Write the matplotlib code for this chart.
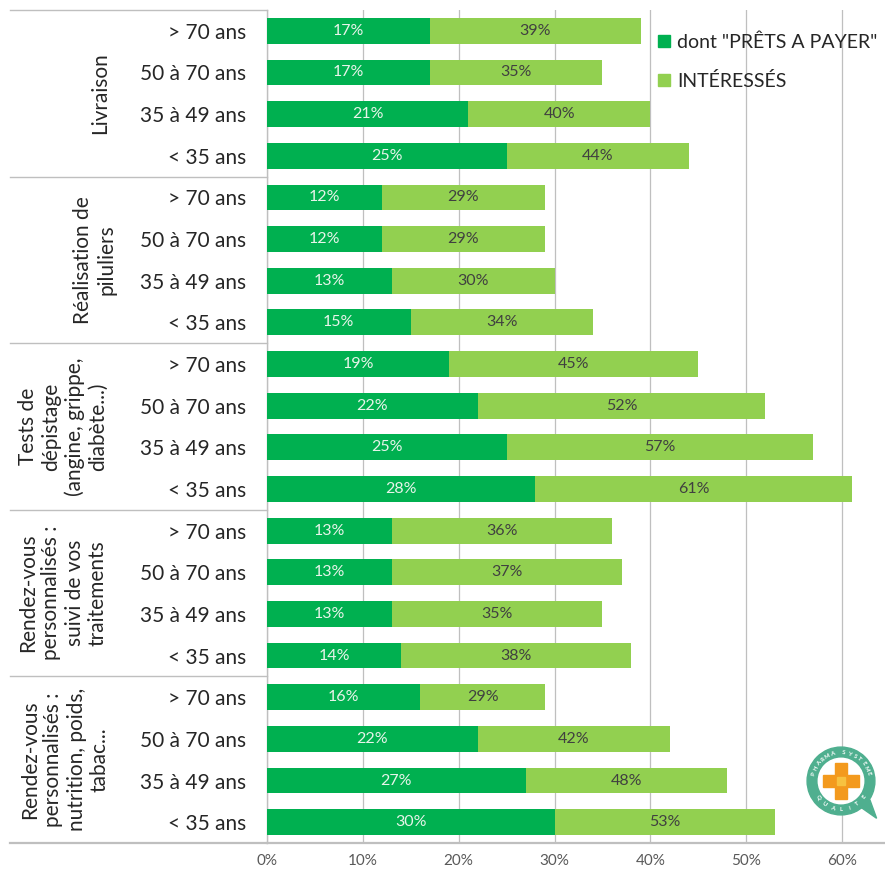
import matplotlib
matplotlib.use("Agg")
import matplotlib.pyplot as plt
import matplotlib.transforms as mtransforms
from matplotlib.lines import Line2D
from matplotlib.patches import Wedge, Rectangle, Circle, Polygon
import numpy as np

plt.rcParams['font.family'] = ['Lato', 'DejaVu Sans']

# Data
groups = ["Livraison",
          "Réalisation de\npiluliers",
          "Tests de\ndépistage\n(angine, grippe,\ndiabète...)",
          "Rendez-vous\npersonnalisés :\nsuivi de vos\ntraitements",
          "Rendez-vous\npersonnalisés :\nnutrition, poids,\ntabac..."]
ages = ["> 70 ans", "50 à 70 ans", "35 à 49 ans", "< 35 ans"]

prets_livraison = [17, 17, 21, 25]
inter_livraison = [39, 35, 40, 44]
prets_piluliers = [12, 12, 13, 15]
inter_piluliers = [29, 29, 30, 34]
prets_tests = [19, 22, 25, 28]
inter_tests = [45, 52, 57, 61]
prets_suivi = [13, 13, 13, 14]
inter_suivi = [36, 37, 35, 38]
prets_nutrition = [16, 22, 27, 30]
inter_nutrition = [29, 42, 48, 53]

xticks = [0, 10, 20, 30, 40, 50, 60]
legend_labels = ['dont "PRÊTS A PAYER"', 'INTÉRESSÉS']

prets = prets_livraison + prets_piluliers + prets_tests + prets_suivi + prets_nutrition
inter = inter_livraison + inter_piluliers + inter_tests + inter_suivi + inter_nutrition
row_labels = ages * len(groups)

DARK = '#00B050'
LIGHT = '#92D050'
GRID = '#BFBFBF'

W, H = 885, 871
fig = plt.figure(figsize=(W / 100, H / 100), dpi=100)
ax = fig.add_axes([267 / W, 1 - 843 / H, 1 - 267 / W, (843 - 10) / H])

y = np.arange(len(prets))
ax.barh(y, inter, height=0.62, color=LIGHT, zorder=2)
ax.barh(y, prets, height=0.62, color=DARK, zorder=3)

for yi, p, t in zip(y, prets, inter):
    ax.text(p / 2, yi, f"{p}%", ha='center', va='center', fontsize=11.5,
            color='#E8F4EA', zorder=4)
    ax.text((p + t) / 2, yi, f"{t}%", ha='center', va='center', fontsize=11.5,
            color='#404040', zorder=4)

ax.set_xlim(0, (W - 267) / ((842 - 267) / 60))
ax.set_ylim(len(prets) - 0.5, -0.5)
ax.set_xticks(xticks)
ax.set_xticklabels([f"{v}%" for v in xticks], fontsize=11, color='#595959')
ax.set_yticks(y)
ax.set_yticklabels(row_labels, fontsize=15, color='#262626')
ax.tick_params(axis='y', length=0, pad=15)
ax.tick_params(axis='x', length=0, pad=8)
ax.xaxis.grid(True, color=GRID, linewidth=0.9, zorder=0)
ax.set_axisbelow(True)
for s in ['top', 'right']:
    ax.spines[s].set_visible(False)
ax.spines['left'].set_color(GRID)
ax.spines['bottom'].set_color(GRID)
ax.spines['left'].set_linewidth(1.0)
ax.spines['bottom'].set_linewidth(1.6)

# Group separators in the label column
blend = mtransforms.blended_transform_factory(fig.transFigure, ax.transData)
for b in np.arange(-0.5, len(prets), 4):
    lw = 1.6 if b > len(prets) - 1 else 1.0
    fig.add_artist(Line2D([10 / W, 267 / W], [b, b], transform=blend,
                          color=GRID, linewidth=lw))

# Group titles
group_x = [100, 95, 63, 63, 65]
for gi, (g, gx) in enumerate(zip(groups, group_x)):
    yc = gi * 4 + 1.5
    fig.text(gx / W, yc, g, transform=blend, rotation=90, ha='center',
             va='center', multialignment='center', fontsize=15,
             color='#262626', linespacing=1.2)

# Legend
handles = [Line2D([], [], marker='s', linestyle='none', markersize=9,
                  color=DARK),
           Line2D([], [], marker='s', linestyle='none', markersize=9,
                  color=LIGHT)]
fig.legend(handles, legend_labels, loc='upper left',
           bbox_to_anchor=(637 / W, 1 - 16 / H), frameon=False,
           fontsize=14, handletextpad=0.15, handlelength=1.0,
           labelspacing=1.08, labelcolor='#262626')

# Quality badge
lax = fig.add_axes([802 / W, 1 - 820 / H, 78 / W, 78 / H])
lax.set_xlim(-1.15, 1.15)
lax.set_ylim(-1.15, 1.15)
lax.set_aspect('equal')
lax.axis('off')
TEAL = '#4FAF8F'
lax.add_patch(Wedge((0, 0), 1.0, 0, 360, width=0.33, color=TEAL))
lax.add_patch(Polygon([[0.55, -0.75], [1.05, -1.1], [0.85, -0.55]],
                      closed=True, color=TEAL))
lax.add_patch(Circle((0, 0), 0.67, color='white'))
lax.add_patch(Rectangle((-0.17, -0.52), 0.34, 1.04, color='#F39A1E'))
lax.add_patch(Rectangle((-0.52, -0.17), 1.04, 0.34, color='#F39A1E'))
lax.add_patch(Rectangle((-0.12, -0.12), 0.24, 0.24, color='#F7C240'))


def arc_text(text, start, end, r, flip):
    angs = np.linspace(start, end, len(text))
    for ch, a in zip(text, angs):
        rot = np.degrees(a) - 90 if not flip else np.degrees(a) + 90
        lax.text(r * np.cos(a), r * np.sin(a), ch, rotation=rot,
                 ha='center', va='center', fontsize=4.2, color='white',
                 fontweight='bold')


arc_text("PHARMA SYSTEME", np.radians(165), np.radians(15), 0.835, False)
arc_text("QUALITE", np.radians(215), np.radians(325), 0.835, True)

fig.savefig("out.png", dpi=100)
